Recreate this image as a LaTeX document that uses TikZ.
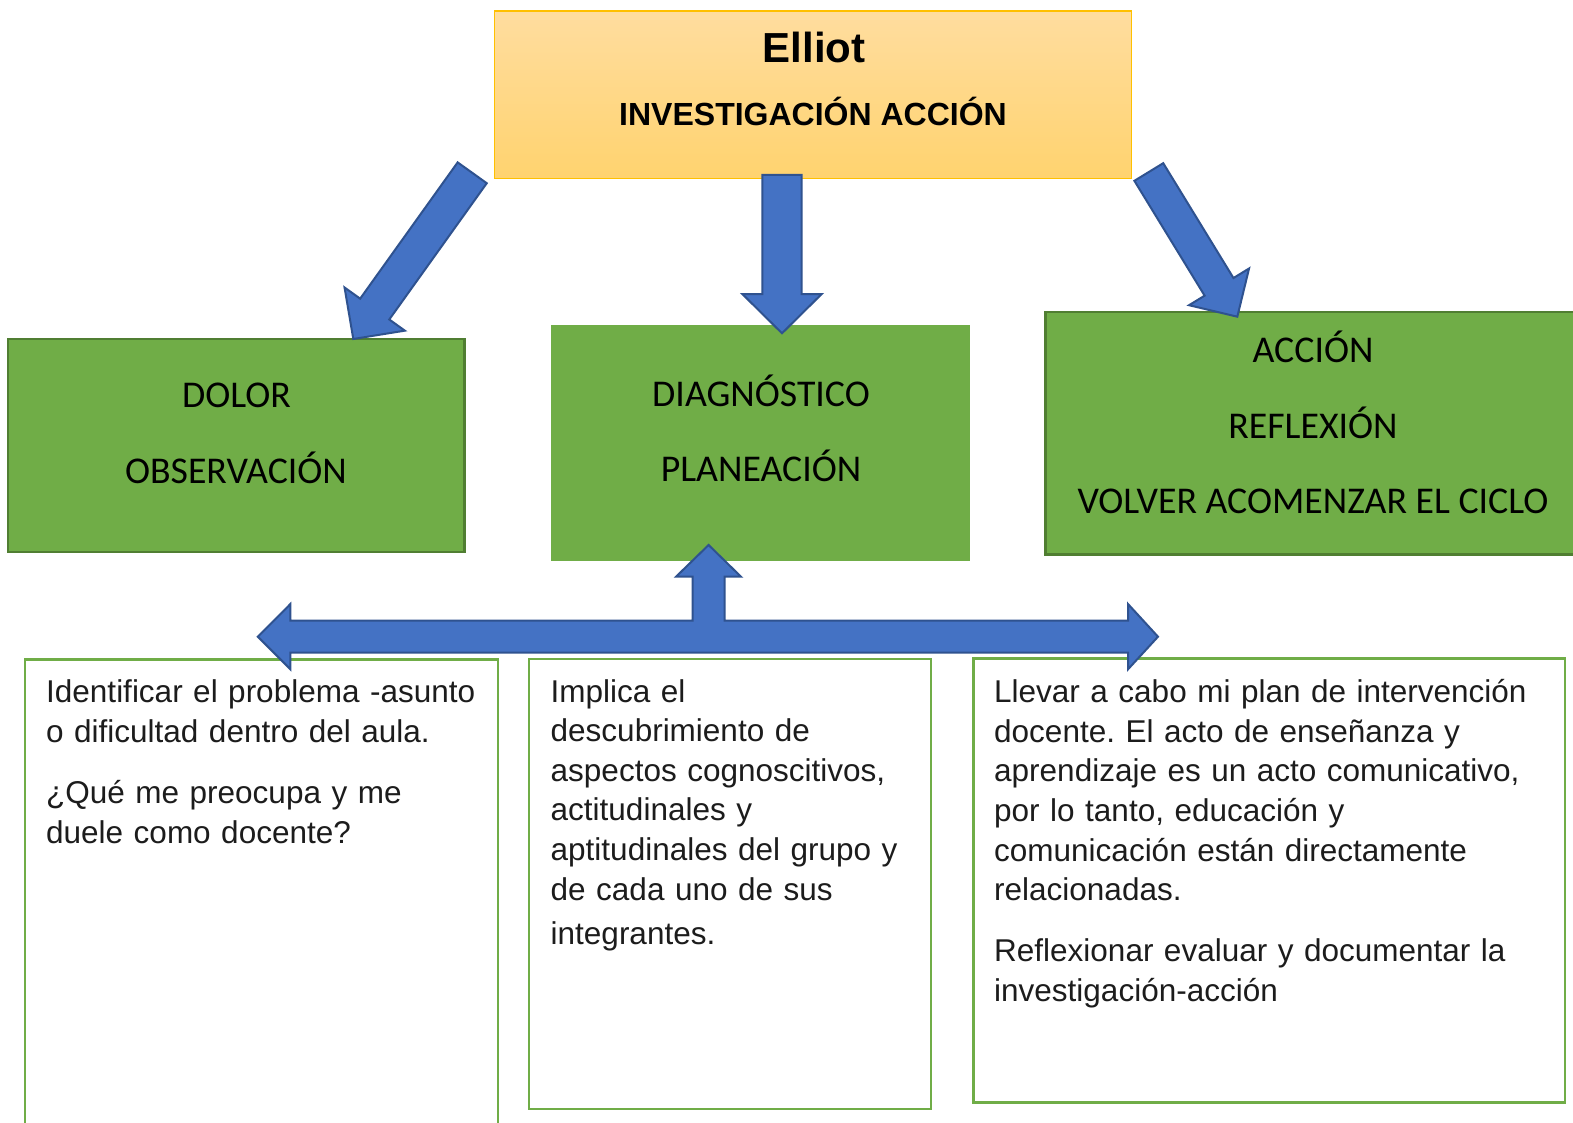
\documentclass[tikz,border=0pt]{standalone}
\usepackage{fontspec}
\setmainfont{Liberation Sans}
\newfontfamily\calibri{Carlito}
\usetikzlibrary{calc}
\definecolor{gfill}{HTML}{70AD47}
\definecolor{gdark}{HTML}{507E32}
\definecolor{bfill}{HTML}{4472C4}
\definecolor{bdark}{HTML}{2F528F}
\definecolor{otop}{HTML}{FFDD9F}
\definecolor{obot}{HTML}{FFD36F}
\definecolor{oline}{HTML}{FFC000}
\definecolor{txt}{HTML}{1C1C1C}
\frenchspacing
\newcommand{\blockarr}[5]{%
  \coordinate (hb) at ($(#2)!#5!(#1)$);
  \draw[blockarrow] ($(#1)!#3!90:(#2)$) -- ($(hb)!#3!-90:(#1)$) -- ($(hb)!#4!-90:(#1)$) -- (#2)
    -- ($(hb)!#4!90:(#1)$) -- ($(hb)!#3!90:(#1)$) -- ($(#1)!#3!-90:(#2)$) -- cycle;}
\begin{document}
\begin{tikzpicture}[x=1pt,y=-1pt,
  greenbox/.style={draw=gdark, line width=2.5pt, fill=gfill, inner sep=0pt},
  whitebox/.style={draw=gfill, line width=2.5pt, fill=white, inner sep=0pt},
  titlebox/.style={draw=oline, line width=1.2pt, top color=otop, bottom color=obot, inner sep=0pt},
  blockarrow/.style={draw=bdark, line width=2pt, fill=bfill, line join=miter},
  gtext/.style={font=\calibri\fontsize{37.8}{44}\selectfont, anchor=base, inner sep=0pt},
  btext/.style={font=\fontsize{31.5}{39.6}\selectfont\frenchspacing, text=txt, anchor=base west, inner sep=0pt, align=left},
]
\useasboundingbox (0,0) rectangle (1573,1123);
\fill[white] (0,0) rectangle (1573,1123);

% title box
\node[titlebox, minimum width=637pt, minimum height=167.6pt] (title) at (813.1,94.8) {};
\node[font=\bfseries\fontsize{42}{48}\selectfont, anchor=base, inner sep=0pt] (elliot) at (814,62.5) {Elliot};
\node[font=\bfseries\fontsize{32}{38}\selectfont, anchor=base, inner sep=0pt] (ia) at (813,126) {INVESTIGACIÓN ACCIÓN};

% green boxes
\node[greenbox, minimum width=456.5pt, minimum height=212.8pt] (dolor) at (236.25,445.4) {};
\node[greenbox, draw=none, minimum width=419pt, minimum height=235.5pt] (diag) at (760,442.75) {};
\node[greenbox, minimum width=554.5pt, minimum height=242.5pt] (accion) at (1322.75,433.25) {};

\node[gtext] (t1) at (236.5,407.5) {DOLOR};
\node[gtext] (t2) at (236,483) {OBSERVACIÓN};
\node[gtext] (t3) at (761,406) {DIAGNÓSTICO};
\node[gtext] (t4) at (761,481.5) {PLANEACIÓN};
\node[gtext] (t5) at (1313,362) {ACCIÓN};
\node[gtext] (t6) at (1313,438) {REFLEXIÓN};
\node[gtext] (t7) at (1313,513) {VOLVER ACOMENZAR EL CICLO};

% white boxes
\node[whitebox, minimum width=473pt, minimum height=480.5pt] (b1) at (261.5,899.75) {};
\node[whitebox, minimum width=402.2pt, minimum height=450pt] (b2) at (729.9,884) {};
\node[whitebox, minimum width=591.5pt, minimum height=443.8pt] (b3) at (1269.25,880.6) {};

\node[btext, text width=445pt] (x1) at (46,702.7) {Identificar el problema -asunto\\[0.4pt]
o dificultad dentro del aula.\\[21.5pt]
¿Qué me preocupa y me\\[0.4pt]
duele como docente?};

\node[btext, text width=375pt] (x2) at (550.5,702) {Implica el\\
descubrimiento de\\
aspectos cognoscitivos,\\
actitudinales y\\
aptitudinales del grupo y\\
de cada uno de sus\\[4.5pt]
integrantes.};

\node[btext, text width=560pt] (x3) at (994,702.7) {Llevar a cabo mi plan de intervención\\
docente. El acto de enseñanza y\\
aprendizaje es un acto comunicativo,\\
por lo tanto, educación y\\
comunicación están directamente\\
relacionadas.\\[21.5pt]
Reflexionar evaluar y documentar la\\
investigación-acción};

% arrows from title
\coordinate (la1) at (472.2,172.8);
\coordinate (la2) at (353.3,339);
\blockarr{la1}{la2}{17.9pt}{37.1pt}{36.8pt}
\coordinate (ma1) at (782,175);
\coordinate (ma2) at (782,333.3);
\blockarr{ma1}{ma2}{19.7pt}{39.7pt}{39.3pt}
\coordinate (ra1) at (1148.8,172);
\coordinate (ra2) at (1237.3,316.7);
\blockarr{ra1}{ra2}{16.9pt}{35.2pt}{35pt}

% bottom T arrow
\coordinate (tl) at (257.8,636.7);
\coordinate (tr) at (1158,636.7);
\coordinate (tu) at (708.6,545);
\draw[blockarrow] (tl) -- (290.4,604) -- (290.4,620.7) -- (692.5,620.7) -- (692.5,576.7) -- (676,576.7)
  -- (tu) -- (741,576.7) -- (724.6,576.7) -- (724.6,620.7) -- (1128,620.7) -- (1128,604)
  -- (tr) -- (1128,669.3) -- (1128,652.7) -- (290.4,652.7) -- (290.4,669.3) -- cycle;
\end{tikzpicture}
\end{document}
